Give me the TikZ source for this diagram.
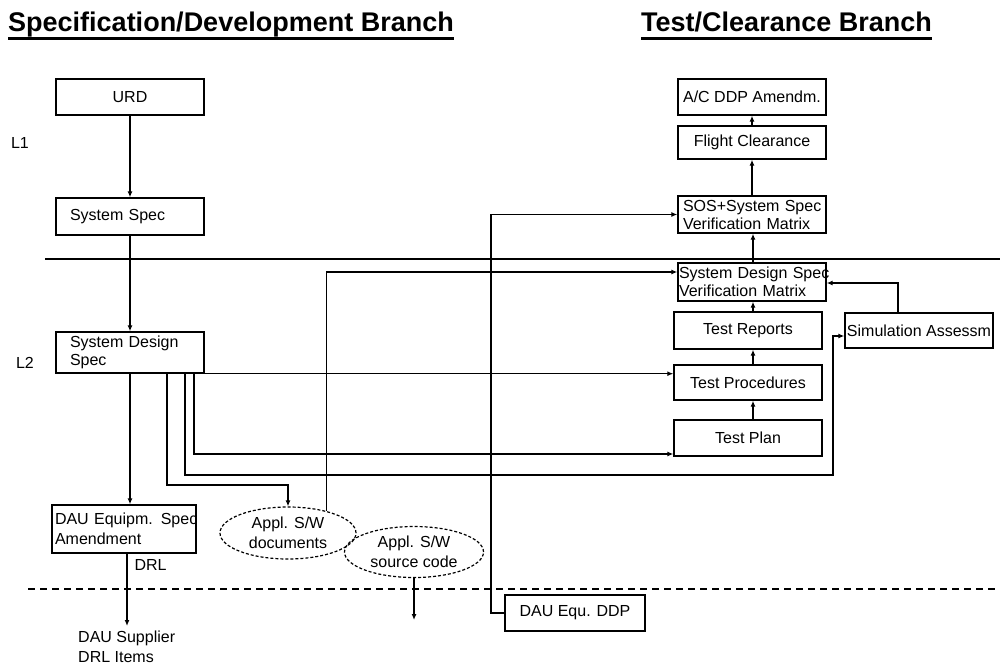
\documentclass[tikz,border=0pt]{standalone}
\usepackage{fontspec}
\setmainfont{Liberation Sans}
\usetikzlibrary{arrows.meta,shapes.geometric,calc}
\begin{document}
\begin{tikzpicture}[x=1pt,y=-1pt,
  every node/.style={font=\fontsize{16}{18}\selectfont},
  box/.style={draw, line width=1.4pt, inner xsep=3pt, inner ysep=0pt,
    minimum width=148pt, align=center},
  lbox/.style={box, align=left},
  doc/.style={draw, ellipse, line width=1.2pt, dash pattern=on 3pt off 2pt,
    inner sep=0pt, align=center, font=\fontsize{16}{20}\selectfont},
  title/.style={anchor=base west, inner sep=0pt,
    font=\bfseries\fontsize{27}{30}\selectfont},
  wire/.style={line width=1.4pt},
  arr/.style={wire, -{Latex[length=6pt,width=5pt]}}]
\useasboundingbox (0,0) rectangle (1000,666);

% branch headings
\node[title] (t1) at (8,32) {Specification/Development Branch};
\node[title] (t2) at (641,32) {Test/Clearance Branch};
\draw[line width=2.6pt] ($(t1.base west)+(0,6.5)$) -- ($(t1.base east)+(0,6.5)$);
\draw[line width=2.6pt] ($(t2.base west)+(0,6.5)$) -- ($(t2.base east)+(0,6.5)$);

% level separators
\draw[wire] (45,259) -- (1000,259);
\draw[wire, dash pattern=on 7pt off 5pt] (28,589) -- (1000,589);
\node (l1) at (20,143) {L1};
\node (l2) at (25,363) {L2};

% specification / development side
\node[box, minimum height=36pt] (urd) at (130,97) {URD};
\node[lbox, minimum height=37pt, text width=120pt, inner xsep=14pt] (sysspec) at (130,216.5) {\mbox{System Spec}};
\node[lbox, minimum height=41pt, text width=120pt, inner xsep=14pt] (sds) at (130,352.5) {\mbox{System Design}\\Spec};
\node[lbox, minimum width=144pt, minimum height=48pt, text width=138pt, inner xsep=3pt] (dau) at (124,529) {\mbox{DAU Equipm. Spec}\\[2pt]Amendment};
\node[doc, minimum width=136pt, minimum height=52pt] (docs) at (288,533) {Appl. S/W\\documents};
\node[doc, minimum width=139pt, minimum height=51pt] (src) at (414,552) {Appl. S/W\\source code};
\node[anchor=west] (drl) at (131,565) {DRL};
\node[anchor=north west, align=left, inner sep=0pt, font=\fontsize{16}{20}\selectfont] (supp) at (78,631) {DAU Supplier\\DRL Items};

% test / clearance side
\node[box, minimum height=36pt] (acddp) at (752,97) {A/C DDP Amendm.};
\node[box, minimum height=33pt] (flight) at (752,142.5) {Flight Clearance};
\node[lbox, minimum height=37pt, text width=138pt, inner xsep=5pt] (sosvm) at (752,214.5) {\mbox{SOS+System Spec}\\\mbox{Verification Matrix}};
\node[lbox, minimum height=38pt, text width=146pt, inner xsep=1pt] (sdsvm) at (752,282) {\mbox{System Design Spec}\\\mbox{Verification Matrix}};
\node[box, minimum height=37pt] (reports) at (748,330.5) {Test Reports};
\node[box, minimum height=35pt] (procs) at (748,382.5) {Test Procedures};
\node[box, minimum height=36pt] (plan) at (748,438) {Test Plan};
\node[box, minimum height=35pt, inner xsep=1pt] (sim) at (919,330.5) {Simulation Assessm};
\node[box, minimum width=140pt, minimum height=36pt] (ddp) at (575,613) {DAU Equ. DDP};

% routing points
\coordinate (drlend) at (127,626);
\coordinate (srcend) at (418,620);
\coordinate (b1) at (194,454);
\coordinate (b2) at (185,475);
\coordinate (b3) at (833,336);
\coordinate (b4) at (167,485);
\coordinate (b5) at (326,272);
\coordinate (b6) at (491,400);
\coordinate (b7) at (898,283);
\coordinate (cx) at (753,0);

% development flow
\draw[arr] (urd.south) -- (sysspec.north);
\draw[arr] (sysspec.south) -- (sds.north);
\draw[arr] (sds.south) -- (sds.south |- dau.north);
\draw[arr] (dau.south -| drlend) -- (drlend);
\draw[arr] (src.south) -- (src.south |- srcend);

% design spec feeds
\draw[arr] (sds.south east) -- (procs.west |- sds.south east);
\draw[arr] (sds.south -| b1) |- (plan.west |- b1);
\draw[arr] (sds.south -| b2) |- (b3 |- b2) -- (b3) -- (sim.west |- b3);
\draw[arr] (sds.south -| b4) |- (docs.north |- b4) -- (docs.north);
\draw[arr] (docs.30) |- (sdsvm.west |- b5);
\draw[arr] (ddp.west) -| (b6) |- (sosvm.west);
\draw[arr] (sim.north -| b7) |- (sdsvm.east |- b7);

% test chain upwards
\draw[arr] (plan.north -| cx) -- (procs.south -| cx);
\draw[arr] (procs.north -| cx) -- (reports.south -| cx);
\draw[arr] (reports.north -| cx) -- (sdsvm.south -| cx);
\draw[arr] (sdsvm.north -| cx) -- (sosvm.south -| cx);
\draw[arr] (sosvm.north) -- (flight.south);
\draw[arr] (flight.north) -- (acddp.south);
\end{tikzpicture}
\end{document}
